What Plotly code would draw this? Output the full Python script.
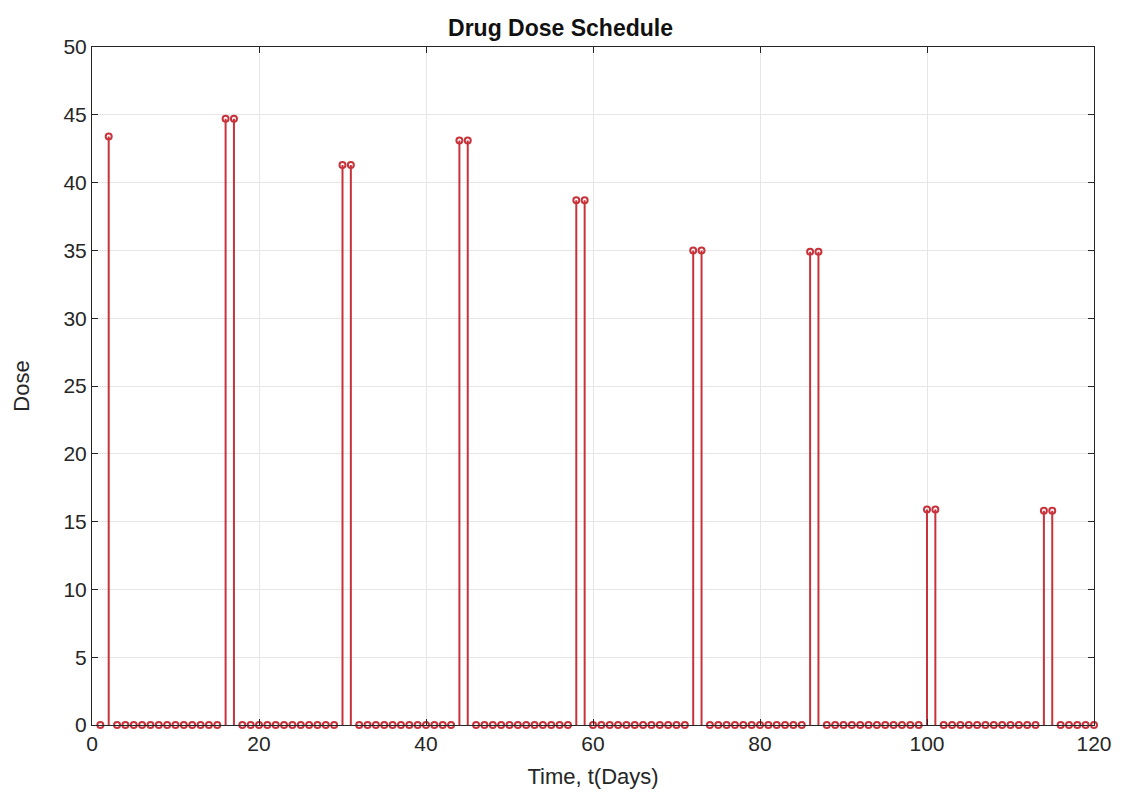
import plotly.graph_objects as go

days = list(range(1, 121))
dose_days = [2, 16, 17, 30, 31, 44, 45, 58, 59, 72, 73, 86, 87, 100, 101, 114, 115]
dose_vals = [43.4, 44.7, 44.7, 41.3, 41.3, 43.1, 43.1, 38.7, 38.7, 35.0, 35.0,
             34.9, 34.9, 15.9, 15.9, 15.8, 15.8]
x_ticks = [0, 20, 40, 60, 80, 100, 120]
y_ticks = [0, 5, 10, 15, 20, 25, 30, 35, 40, 45, 50]

dose_map = dict(zip(dose_days, dose_vals))
doses = [dose_map.get(d, 0.0) for d in days]

RED = "#c8333b"
AX = "#262626"
FONT = "Liberation Sans, Arial"

stem_x, stem_y = [], []
for d, v in zip(days, doses):
    if v != 0:
        stem_x += [d, d, None]
        stem_y += [0, v, None]

fig = go.Figure()
fig.add_trace(go.Scatter(x=stem_x, y=stem_y, mode="lines",
                         line=dict(color=RED, width=2), hoverinfo="skip",
                         showlegend=False, cliponaxis=False))
fig.add_trace(go.Scatter(x=days, y=doses, mode="markers",
                         marker=dict(symbol="circle-open", size=6, color=RED,
                                     line=dict(width=2, color=RED)),
                         showlegend=False, cliponaxis=False))

axis_common = dict(showline=True, linecolor=AX, linewidth=1, mirror="ticks",
                   ticks="inside", ticklen=6, tickcolor=AX, showgrid=True,
                   gridcolor="#e6e6e6", gridwidth=1, zeroline=False,
                   automargin=False,
                   tickfont=dict(family=FONT, size=21, color=AX))

fig.update_xaxes(range=[0, 120], tickvals=x_ticks,
                 title=dict(text="Time, t(Days)", standoff=14,
                            font=dict(family=FONT, size=22, color=AX)),
                 **axis_common)
fig.update_yaxes(range=[0, 50], tickvals=y_ticks,
                 title=dict(text="Dose", standoff=27,
                            font=dict(family=FONT, size=22, color=AX)),
                 **axis_common)

fig.update_layout(
    width=1121, height=796,
    margin=dict(l=92, r=27, t=47, b=71),
    paper_bgcolor="white", plot_bgcolor="white",
    title=dict(text="<b>Drug Dose Schedule</b>", x=0.5, xanchor="center",
               y=1 - 28 / 796, yanchor="middle",
               font=dict(family=FONT, size=23, color="#111111")),
)

fig.write_html("out.html")
